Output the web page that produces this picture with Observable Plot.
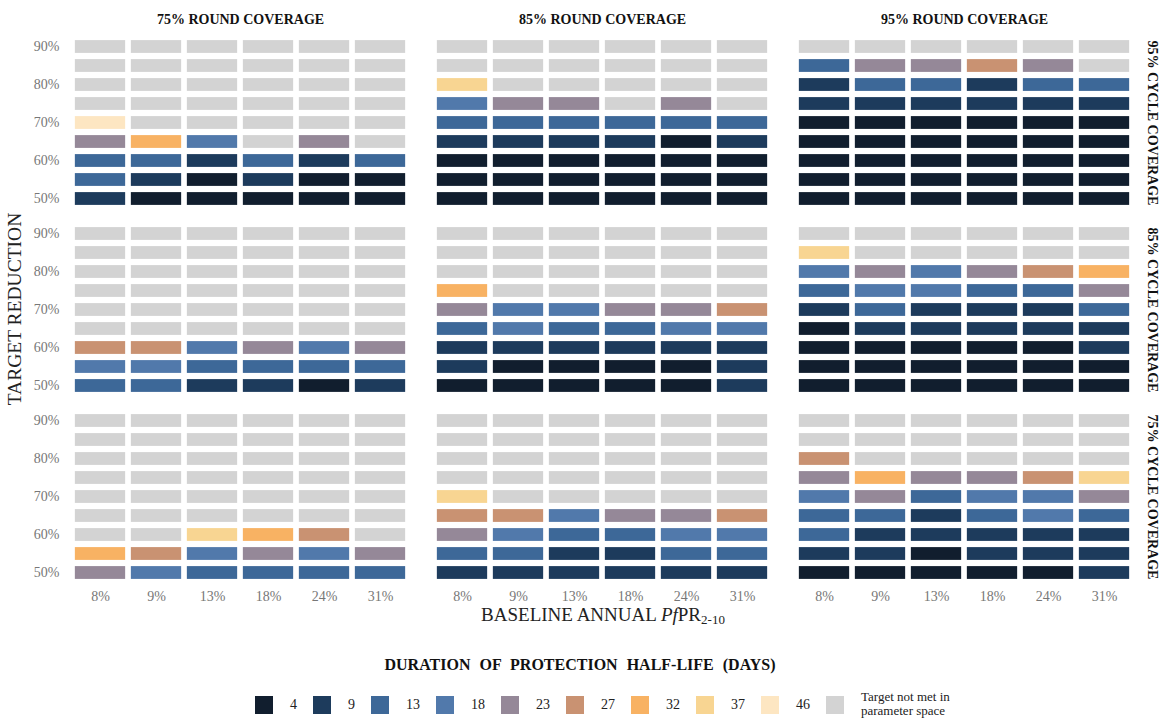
<!DOCTYPE html>
<html>
<head>
<meta charset="utf-8">
<script src="https://cdn.jsdelivr.net/npm/d3@7"></script>
<script src="https://cdn.jsdelivr.net/npm/@observablehq/plot@0.6"></script>
<style>
  body { margin: 0; background: #fff; font-family: "Liberation Serif", "Times New Roman", serif; }
  #wrap { position: relative; width: 1162px; height: 718px; overflow: hidden; }
  #wrap svg { position: absolute; left: 0; top: 0; }
  .ylab { position: absolute; left: 15px; top: 309px; transform: translate(-50%, -50%) rotate(-90deg); white-space: nowrap; font-size: 19.5px; color: #222; }
  .xlab { position: absolute; left: 603px; top: 615px; transform: translate(-50%, -50%); white-space: nowrap; font-size: 19px; color: #222; }
  .xlab sub { font-size: 13px; vertical-align: -3px; line-height: 0; }
  .ltitle { position: absolute; left: 580px; top: 665px; transform: translate(-50%, -50%); white-space: nowrap; font-size: 16px; font-weight: bold; word-spacing: 5px; color: #111; }
  .legend { position: absolute; left: 255px; top: 692px; display: flex; align-items: center; font-size: 14px; color: #222; }
  .legend .sw { width: 18px; height: 18px; margin-right: 17px; }
  .legend .lb { margin-right: 16px; }
  .legend .na { font-size: 13px; line-height: 14px; margin-top: -2px; }
</style>
</head>
<body>
<div id="wrap"></div>
<script>
// ---------- data ----------
const pfpr = ["8%", "9%", "13%", "18%", "24%", "31%"];
const targets = ["90%", "85%", "80%", "75%", "70%", "65%", "60%", "55%", "50%"]; // top to bottom
const roundCoverage = ["75%", "85%", "95%"];
const cycleCoverage = ["95%", "85%", "75%"];
const halfLifeDays = ["4", "9", "13", "18", "23", "27", "32", "37", "46"];
const halfLifeColors = ["#111e2e", "#1d3b5c", "#3d6898", "#5179ab", "#958898", "#c99272", "#f8b263", "#f8d592", "#fde6c2"];
const notMetLabel = "Target not met in parameter space";
const notMetColor = "#d3d3d3";
const N = null;

// rows: 90% .. 50% ; columns: 8% 9% 13% 18% 24% 31%
const round75_cycle95 = [
  [N, N, N, N, N, N],
  [N, N, N, N, N, N],
  [N, N, N, N, N, N],
  [N, N, N, N, N, N],
  [46, N, N, N, N, N],
  [23, 32, 18, N, 23, N],
  [13, 13, 9, 13, 9, 13],
  [13, 9, 4, 9, 4, 4],
  [9, 4, 4, 4, 4, 4]
];
const round85_cycle95 = [
  [N, N, N, N, N, N],
  [N, N, N, N, N, N],
  [37, N, N, N, N, N],
  [18, 23, 23, N, 23, N],
  [13, 13, 13, 13, 13, 13],
  [9, 9, 9, 9, 4, 9],
  [4, 4, 4, 4, 4, 4],
  [4, 4, 4, 4, 4, 4],
  [4, 4, 4, 4, 4, 4]
];
const round95_cycle95 = [
  [N, N, N, N, N, N],
  [13, 23, 23, 27, 23, N],
  [9, 13, 13, 9, 13, 13],
  [9, 9, 9, 9, 9, 9],
  [4, 4, 4, 4, 4, 4],
  [4, 4, 4, 4, 4, 4],
  [4, 4, 4, 4, 4, 4],
  [4, 4, 4, 4, 4, 4],
  [4, 4, 4, 4, 4, 4]
];
const round75_cycle85 = [
  [N, N, N, N, N, N],
  [N, N, N, N, N, N],
  [N, N, N, N, N, N],
  [N, N, N, N, N, N],
  [N, N, N, N, N, N],
  [N, N, N, N, N, N],
  [27, 27, 18, 23, 18, 23],
  [18, 18, 13, 13, 13, 13],
  [13, 13, 9, 9, 4, 9]
];
const round85_cycle85 = [
  [N, N, N, N, N, N],
  [N, N, N, N, N, N],
  [N, N, N, N, N, N],
  [32, N, N, N, N, N],
  [23, 18, 18, 23, 23, 27],
  [13, 18, 13, 13, 18, 18],
  [9, 9, 9, 9, 9, 9],
  [9, 4, 4, 4, 4, 9],
  [4, 4, 4, 4, 4, 9]
];
const round95_cycle85 = [
  [N, N, N, N, N, N],
  [37, N, N, N, N, N],
  [18, 23, 18, 23, 27, 32],
  [13, 18, 18, 13, 13, 23],
  [9, 13, 9, 9, 9, 13],
  [4, 9, 9, 9, 9, 9],
  [4, 4, 4, 4, 4, 9],
  [4, 4, 4, 4, 4, 4],
  [4, 4, 4, 4, 4, 4]
];
const round75_cycle75 = [
  [N, N, N, N, N, N],
  [N, N, N, N, N, N],
  [N, N, N, N, N, N],
  [N, N, N, N, N, N],
  [N, N, N, N, N, N],
  [N, N, N, N, N, N],
  [N, N, 37, 32, 27, N],
  [32, 27, 18, 23, 18, 23],
  [23, 18, 13, 13, 13, 13]
];
const round85_cycle75 = [
  [N, N, N, N, N, N],
  [N, N, N, N, N, N],
  [N, N, N, N, N, N],
  [N, N, N, N, N, N],
  [37, N, N, N, N, N],
  [27, 27, 18, 23, 23, 27],
  [23, 18, 13, 13, 18, 18],
  [13, 13, 9, 9, 13, 13],
  [9, 9, 9, 9, 9, 9]
];
const round95_cycle75 = [
  [N, N, N, N, N, N],
  [N, N, N, N, N, N],
  [27, N, N, N, N, N],
  [23, 32, 23, 23, 27, 37],
  [18, 23, 13, 18, 18, 23],
  [13, 13, 9, 13, 18, 13],
  [13, 9, 9, 9, 9, 9],
  [9, 9, 4, 9, 9, 9],
  [4, 4, 4, 4, 4, 9]
];

const grids = [
  ["75%", "95%", round75_cycle95], ["85%", "95%", round85_cycle95], ["95%", "95%", round95_cycle95],
  ["75%", "85%", round75_cycle85], ["85%", "85%", round85_cycle85], ["95%", "85%", round95_cycle85],
  ["75%", "75%", round75_cycle75], ["85%", "75%", round85_cycle75], ["95%", "75%", round95_cycle75]
];
const cells = [];
for (const [round, cycle, grid] of grids) {
  grid.forEach((row, i) => row.forEach((v, j) => {
    cells.push({round, cycle, target: targets[i], pfpr: pfpr[j], hl: v == null ? "NA" : String(v)});
  }));
}

// ---------- chart ----------
const serif = '"Liberation Serif", "Times New Roman", serif';
const lastRound = roundCoverage[roundCoverage.length - 1];
const firstCycle = cycleCoverage[0];
const middleTarget = targets[Math.floor(targets.length / 2)];
const chart = Plot.plot({
  width: 1162,
  height: 640,
  marginLeft: 69,
  marginRight: 28,
  marginTop: 35,
  marginBottom: 57,
  style: {fontFamily: serif, background: "transparent", overflow: "visible"},
  fx: {domain: roundCoverage, paddingInner: 0.061, paddingOuter: 0, axis: null},
  fy: {domain: cycleCoverage, paddingInner: 0.075, paddingOuter: 0, axis: null},
  x: {domain: pfpr, padding: 0, axis: null},
  y: {domain: targets, padding: 0, axis: null},
  color: {type: "ordinal", domain: [...halfLifeDays, "NA"], range: [...halfLifeColors, notMetColor]},
  marks: [
    Plot.cell(cells, {
      x: "pfpr", y: "target", fx: "round", fy: "cycle", fill: "hl",
      insetLeft: 2.85, insetRight: 2.85, insetTop: 3.1, insetBottom: 3.1
    }),
    Plot.axisX({tickSize: 0, tickPadding: 8, fontSize: 14, color: "#777", label: null}),
    Plot.axisY({ticks: ["90%", "80%", "70%", "60%", "50%"], tickSize: 0, tickPadding: 11, fontSize: 14, color: "#777", label: null}),
    Plot.text(roundCoverage, {
      fx: d => d, fy: () => firstCycle, text: d => d + " ROUND COVERAGE", frameAnchor: "top", dy: -16.5,
      fontSize: 14, fontWeight: "bold", fill: "#111", lineAnchor: "middle", textAnchor: "middle"
    }),
    Plot.text(cycleCoverage, {
      fx: () => lastRound, fy: d => d, y: () => middleTarget, text: d => d + " CYCLE COVERAGE",
      frameAnchor: "right", dx: 18, rotate: 90,
      fontSize: 14, fontWeight: "bold", fill: "#111", lineAnchor: "middle", textAnchor: "middle"
    })
  ]
});

const wrap = d3.select("#wrap");
wrap.node().appendChild(chart);

wrap.append("div").attr("class", "ylab").text("TARGET REDUCTION");
wrap.append("div").attr("class", "xlab").html("BASELINE ANNUAL <i>Pf</i>PR<sub>2-10</sub>");
wrap.append("div").attr("class", "ltitle").text("DURATION OF PROTECTION HALF-LIFE (DAYS)");

const legend = wrap.append("div").attr("class", "legend");
halfLifeDays.forEach((d, i) => {
  legend.append("div").attr("class", "sw").style("background", halfLifeColors[i]);
  legend.append("div").attr("class", "lb").text(d);
});
legend.append("div").attr("class", "sw").style("background", notMetColor);
legend.append("div").attr("class", "na").html("Target not met in<br>parameter space");
</script>
</body>
</html>
